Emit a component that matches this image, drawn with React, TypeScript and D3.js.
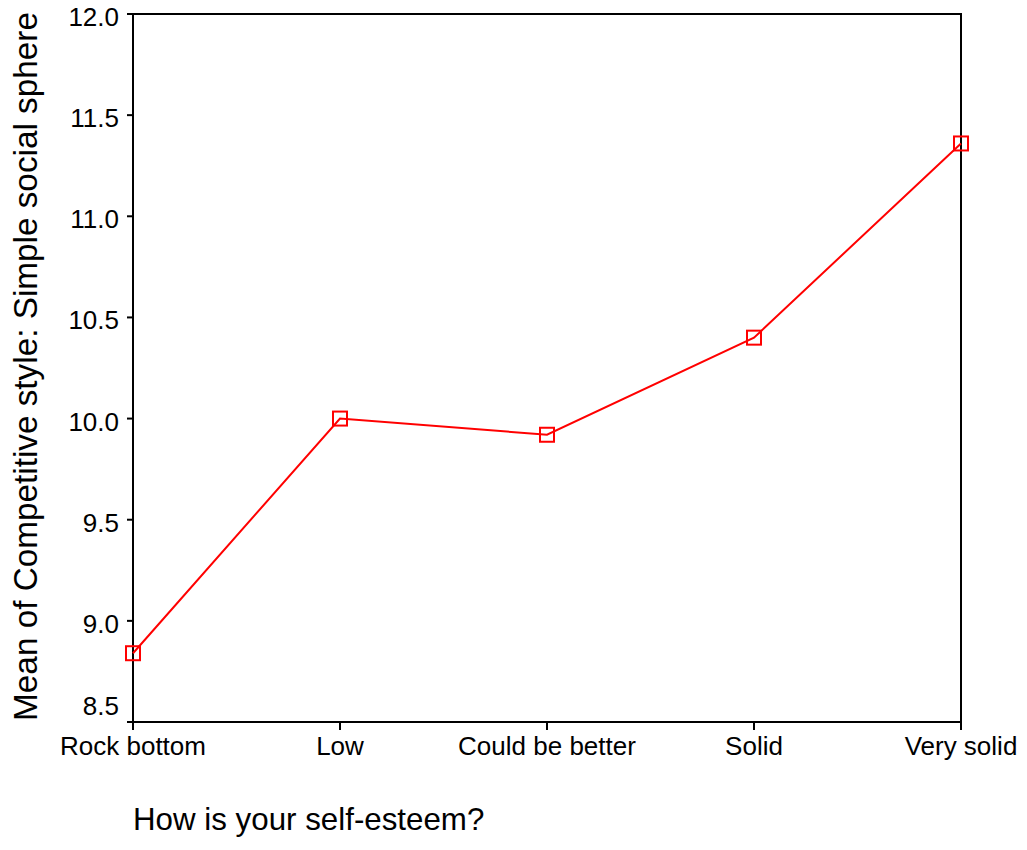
import React from "react";
import * as d3 from "d3";

const categories = ["Rock bottom", "Low", "Could be better", "Solid", "Very solid"];
const means = [8.84, 10.0, 9.92, 10.4, 11.36];
const yTicks = [8.5, 9.0, 9.5, 10.0, 10.5, 11.0, 11.5, 12.0];
const yTitle = "Mean of Competitive style: Simple social sphere";
const xTitle = "How is your self-esteem?";

const W = 1027;
const H = 850;
const L = 133, R = 961, T = 14, B = 722;
const FONT = "'Liberation Sans', Arial, Helvetica, sans-serif";

export default function App() {
  const x = d3.scalePoint<string>().domain(categories).range([L, R]).padding(0);
  const y = d3.scaleLinear().domain([8.5, 12]).range([B, T]);
  const pts = categories.map((c, i) => [x(c) as number, y(means[i])] as [number, number]);
  const line = d3.line()(pts) as string;
  const sq = 14;

  return (
    <svg width={W} height={H} style={{ position: "absolute", left: 0, top: 0, background: "#fff" }}>
      <rect x={0} y={0} width={W} height={H} fill="#fff" />
      {/* frame */}
      <rect x={L} y={T} width={R - L} height={B - T} fill="none" stroke="#000" strokeWidth={2} />
      {/* y ticks */}
      {yTicks.map((t, i) => (
        <g key={"y" + t}>
          <line x1={L - 6} x2={L} y1={y(t)} y2={y(t)} stroke="#000" strokeWidth={2} />
          <text
            x={119}
            y={y(t) + (i === 0 ? -7 : 12)}
            textAnchor="end"
            fontFamily={FONT}
            fontSize={26}
            fill="#000"
          >
            {t.toFixed(1)}
          </text>
        </g>
      ))}
      {/* x ticks */}
      {categories.map((c) => (
        <g key={"x" + c}>
          <line x1={x(c)} x2={x(c)} y1={B} y2={B + 8} stroke="#000" strokeWidth={2} />
          <text x={x(c)} y={755} textAnchor="middle" fontFamily={FONT} fontSize={26} fill="#000">
            {c}
          </text>
        </g>
      ))}
      {/* titles */}
      <text x={133} y={830} fontFamily={FONT} fontSize={31.3} fill="#000">
        {xTitle}
      </text>
      <text
        transform={`translate(37, 366.5) rotate(-90)`}
        textAnchor="middle"
        fontFamily={FONT}
        fontSize={33.3}
        fill="#000"
      >
        {yTitle}
      </text>
      {/* line */}
      <path d={line} fill="none" stroke="#ff0000" strokeWidth={2} />
      {pts.map(([px, py], i) => (
        <rect
          key={"m" + i}
          x={px - sq / 2}
          y={py - sq / 2}
          width={sq}
          height={sq}
          fill="none"
          stroke="#ff0000"
          strokeWidth={2}
        />
      ))}
    </svg>
  );
}
